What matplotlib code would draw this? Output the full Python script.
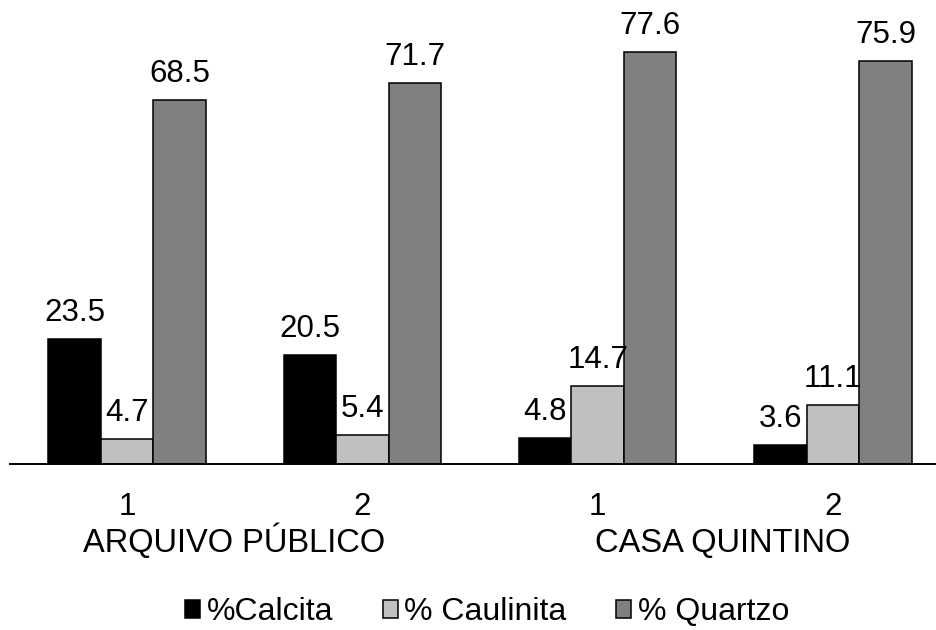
import matplotlib
matplotlib.use("Agg")
import matplotlib.pyplot as plt
import numpy as np

plt.rcParams['font.family'] = ['Liberation Sans', 'DejaVu Sans']

# Sample tick labels and sites
tick_labels = ["1", "2", "1", "2"]
sites = ["ARQUIVO PÚBLICO", "CASA QUINTINO"]

# Mineral percentages per sample
calcita = [23.5, 20.5, 4.8, 3.6]
caulinita = [4.7, 5.4, 14.7, 11.1]
quartzo = [68.5, 71.7, 77.6, 75.9]

series = [
    ("%Calcita", calcita, "#000000"),
    ("% Caulinita", caulinita, "#c0c0c0"),
    ("% Quartzo", quartzo, "#808080"),
]

fig = plt.figure(figsize=(9.37, 6.3), dpi=100)
ax = fig.add_axes([10 / 937, 166 / 630, 927 / 937, 464 / 630])

x = np.arange(len(tick_labels))
width = 0.223
offsets = [-width, 0.0, width]

for (name, vals, color), off in zip(series, offsets):
    bars = ax.bar(x + off, vals, width=width, color=color, edgecolor="black",
                  linewidth=1.1, label=name, zorder=2)
    for b, v in zip(bars, vals):
        ax.annotate(f"{v:.1f}", xy=(b.get_x() + b.get_width() / 2, v),
                    xytext=(0, 13), textcoords="offset points",
                    ha="center", va="baseline", fontsize=22.5,
                    annotation_clip=False)

ax.set_xlim(-0.497, 3.442)
ax.set_ylim(0, 87.3)

for side in ("left", "right", "top"):
    ax.spines[side].set_visible(False)
ax.spines["bottom"].set_linewidth(1.4)
ax.spines["bottom"].set_zorder(3)
ax.set_yticks([])

ax.set_xticks(x, tick_labels, fontsize=22.5)
ax.tick_params(axis="x", length=0, pad=20.5)

# Site names under each pair of samples
for xpos, name in zip([0.455, 2.53], sites):
    ax.annotate(name, xy=(xpos, 0), xycoords=("data", "axes fraction"),
                xytext=(0, -63), textcoords="offset points",
                ha="center", va="baseline", fontsize=23.5,
                annotation_clip=False)

fig.legend(loc="center", bbox_to_anchor=(487 / 937, 1 - 612 / 630),
           ncol=3, frameon=False, fontsize=23,
           handlelength=0.48, handleheight=0.48, handletextpad=0.2,
           columnspacing=1.55)

fig.savefig("out.png", dpi=100)
